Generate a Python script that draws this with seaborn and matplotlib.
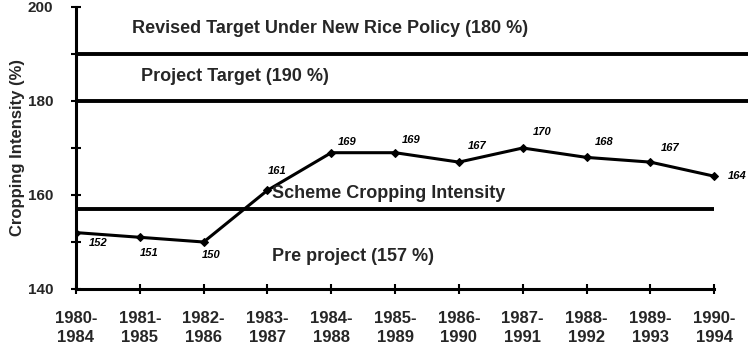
import matplotlib
matplotlib.use("Agg")
import matplotlib.pyplot as plt
import seaborn as sns
import pandas as pd
from matplotlib.ticker import MultipleLocator

periods = ["1980-\n1984", "1981-\n1985", "1982-\n1986", "1983-\n1987", "1984-\n1988",
           "1985-\n1989", "1986-\n1990", "1987-\n1991", "1988-\n1992", "1989-\n1993",
           "1990-\n1994"]
intensity = [152, 151, 150, 161, 169, 169, 167, 170, 168, 167, 164]

revised_target = 190
project_target = 180
pre_project = 157

# value label offsets in pixels (dx, dy) relative to each point
label_offsets = [(22, -10), (9, -16), (8, -13), (10, 19), (16, 11), (16, 13),
                 (18, 16), (19, 16), (18, 15), (20, 14), (23, 0)]

sns.set_theme(style="white")
plt.rcParams["font.family"] = ["Liberation Sans", "DejaVu Sans"]

df = pd.DataFrame({"x": range(len(periods)), "value": intensity})

fig = plt.figure(figsize=(7.52, 3.49), dpi=100)
ax = fig.add_axes([76 / 752, 1 - 289 / 349, (748 - 76) / 752, (289 - 7) / 349])

# reference levels
ax.axhline(revised_target, color="black", lw=2.8)
ax.axhline(project_target, color="black", lw=2.8)
ax.plot([0, len(periods) - 1], [pre_project, pre_project], color="black", lw=2.8,
        solid_capstyle="butt")

sns.lineplot(data=df, x="x", y="value", ax=ax, color="black", lw=2.2,
             marker="D", markersize=4, markeredgecolor="black")

for i, v in enumerate(intensity):
    dx, dy = label_offsets[i]
    ax.annotate(str(v), (i, v), xytext=(dx, dy), textcoords="offset pixels",
                ha="center", va="center", fontsize=8, fontweight="bold",
                fontstyle="italic", color="black")

ax.text(0.877, 195.5, "Revised Target Under New Rice Policy (180 %)", fontsize=13,
        fontweight="bold", va="center", ha="left")
ax.text(1.02, 185.3, "Project Target (190 %)", fontsize=13,
        fontweight="bold", va="center", ha="left")
ax.text(3.07, 160.4, "Scheme Cropping Intensity", fontsize=13,
        fontweight="bold", va="center", ha="left")
ax.text(3.07, 147.0, "Pre project (157 %)", fontsize=13,
        fontweight="bold", va="center", ha="left")

ax.set_xlim(0, 10.53)
ax.set_ylim(140, 200)
ax.set_xticks(range(len(periods)))
ax.set_xticklabels(periods, fontsize=12, linespacing=1.4, fontweight="bold")
ax.set_yticks([140, 160, 180, 200])
ax.set_yticklabels(["140", "160", "180", "200"], fontsize=11, fontweight="bold")
ax.yaxis.set_minor_locator(MultipleLocator(10))
ax.tick_params(axis="both", which="both", direction="inout", length=7, width=1.5,
               color="black", left=True, bottom=True)
ax.tick_params(axis="x", pad=12)
ax.tick_params(axis="y", pad=13)
ax.set_xlabel("")
ax.set_ylabel("Cropping Intensity (%)", fontsize=12, fontweight="bold", labelpad=2)

for side in ("top", "right"):
    ax.spines[side].set_visible(False)
for side in ("left", "bottom"):
    ax.spines[side].set_color("black")
    ax.spines[side].set_linewidth(2.2)
ax.spines["bottom"].set_bounds(0, len(periods) - 1)

fig.savefig("out.png", dpi=100)
